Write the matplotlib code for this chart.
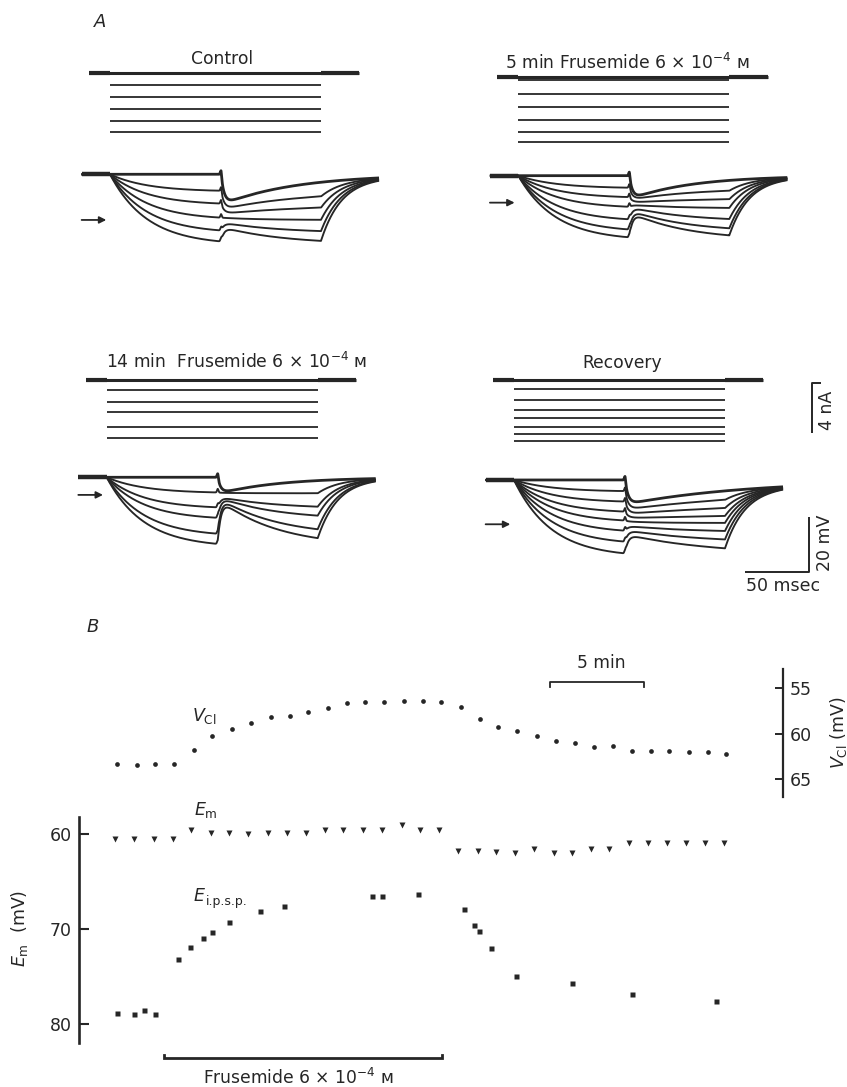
import numpy as np
import matplotlib
matplotlib.use('Agg')
import matplotlib.pyplot as plt

plt.rcParams['font.family'] = ['DejaVu Sans']
plt.rcParams['mathtext.fontset'] = 'dejavusans'

W, H = 847, 1087
INK = '#262626'

# ------------------------------------------------------------------ data: panel A
panel_titles = ['Control',
                '5 min Frusemide 6 \u00d7 10$^{-4}$ \u1d0d',
                '14 min  Frusemide 6 \u00d7 10$^{-4}$ \u1d0d',
                'Recovery']
# injected current steps (nA, hyperpolarizing)
control_currents = [1.0, 1.95, 2.95, 3.9, 4.85]
fr5_currents = [0.27, 1.4, 2.44, 3.52, 4.52, 5.28]
fr14_currents = [0.81, 1.76, 2.6, 3.8, 4.7]
recovery_currents = [0.73, 1.63, 2.44, 3.11, 3.8, 4.39, 4.93]
# steady hyperpolarization before the i.p.s.p. (mV below rest)
control_levels = [0, 6.3, 11.2, 16.6, 21.5, 25.7]
fr5_levels = [0, 4.6, 8.2, 11.9, 16.7, 20.6, 23.6]
fr14_levels = [0, 5.8, 11.5, 15.5, 21.6, 25.5]
recovery_levels = [0, 4.25, 8.25, 12.1, 15.5, 19.4, 23.6, 28.1]
# level reached at the i.p.s.p. peak (mV below rest)
control_peaks = [9.3, 12.0, 14.3, 16.6, 19.0, 21.2]
fr5_peaks = [7.0, 8.2, 9.8, 11.3, 13.0, 14.8, 16.1]
fr14_peaks = [4.9, 5.9, 8.3, 9.3, 10.8, 12.0]
recovery_peaks = [7.9, 10.2, 12.2, 14.1, 15.8, 17.8, 19.8, 21.8]
# i.p.s.p. reversal level (arrow), mV below rest
reversal_levels = [16.6, 9.8, 6.4, 16.1]
# i.p.s.p. decay time constants (ms)
ipsp_decay = [60, 50, 50, 100]

currents = [control_currents, fr5_currents, fr14_currents, recovery_currents]
levels = [control_levels, fr5_levels, fr14_levels, recovery_levels]
peaks = [control_peaks, fr5_peaks, fr14_peaks, recovery_peaks]

T_START, T_IPSP, T_OFF, T_END = -23.0, 90.0, 171.0, 218.0
I_START, I_END = -17.0, 202.0
TAU_ON, TAU_OFF, TAU_RISE = 30.0, 15.0, 2.5
ARTIFACT = 1.3

# ------------------------------------------------------------------ data: panel B (time in min)
vcl_t = [0.09, 1.18, 2.14, 3.15, 4.19, 5.18, 6.21, 7.23, 8.28, 9.29, 10.28, 11.32,
         12.33, 13.32, 14.30, 15.36, 16.38, 17.36, 18.40, 19.41, 20.39, 21.40, 22.43,
         23.47, 24.47, 25.48, 26.47, 27.50, 28.50, 29.48, 30.55, 31.53, 32.50]
vcl_mv = [63.3, 63.4, 63.3, 63.3, 61.8, 60.2, 59.5, 58.8, 58.2, 58.0, 57.6, 57.2,
          56.6, 56.5, 56.5, 56.4, 56.4, 56.5, 57.1, 58.4, 59.2, 59.65, 60.2,
          60.8, 61.0, 61.4, 61.3, 61.85, 61.9, 61.85, 62.0, 62.0, 62.2]
em_t = [0.0, 1.01, 2.07, 3.07, 4.04, 5.09, 6.06, 7.07, 8.12, 9.13, 10.14, 11.17,
        12.13, 13.18, 14.19, 15.25, 16.22, 17.25, 18.24, 19.29, 20.25, 21.28, 22.29,
        23.34, 24.31, 25.32, 26.28, 27.34, 28.35, 29.36, 30.37, 31.38, 32.39]
em_mv = [60.5, 60.5, 60.5, 60.5, 59.5, 59.9, 59.9, 60.0, 59.9, 59.9, 59.9, 59.5,
         59.5, 59.5, 59.5, 59.0, 59.5, 59.5, 61.8, 61.8, 61.9, 62.0, 61.5,
         62.0, 62.0, 61.5, 61.5, 60.9, 60.95, 60.95, 60.9, 60.95, 60.95]
eipsp_t = [0.09, 1.01, 1.54, 2.11, 3.35, 3.99, 4.68, 5.14, 6.06, 7.71, 8.97,
           13.67, 14.20, 16.12, 18.55, 19.10, 19.35, 20.00, 21.31, 24.31, 27.50, 31.97]
eipsp_mv = [78.8, 78.9, 78.5, 78.95, 73.1, 71.85, 70.9, 70.3, 69.2, 68.1, 67.5,
            66.5, 66.5, 66.3, 67.9, 69.5, 70.2, 72.0, 74.9, 75.7, 76.85, 77.6]
frusemide_period = [2.61, 17.38]
time_bar = [23.14, 28.14]
em_ticks = [60, 70, 80]
vcl_ticks = [55, 60, 65]

# ------------------------------------------------------------------ layout helpers
fig = plt.figure(figsize=(W / 100, H / 100), dpi=100)


def px_axes(x0, y0, x1, y1):
    ax = fig.add_axes([x0 / W, 1 - y1 / H, (x1 - x0) / W, (y1 - y0) / H])
    ax.patch.set_alpha(0)
    return ax


def ftext(x, y, s, **kw):
    return fig.text(x / W, 1 - y / H, s, **kw)


# ------------------------------------------------------------------ panel A
PX_MS, PX_MV, PX_NA = 1.234, 2.75, 12.3
panel_xon = [110.0, 518.3, 106.7, 514.0]
panel_vbase = [174.3, 175.7, 477.3, 480.0]
panel_izero = [72.7, 76.7, 380.0, 380.0]
title_pos = [(221.7, 58.5), (627.5, 62.5), (236.7, 362.0), (621.7, 363.3)]

t = np.linspace(T_START, T_END, 2000)


def vtrace(level, peak, top_amp, tau_d):
    s = np.where(t < 0, 0.0, -level * (1 - np.exp(-np.clip(t, 0, None) / TAU_ON)))
    s_off = -level * (1 - np.exp(-T_OFF / TAU_ON))
    s = np.where(t >= T_OFF, s_off * np.exp(-(t - T_OFF) / TAU_OFF), s)
    u = np.clip(t - T_IPSP, 0, None)
    g = np.exp(-u / tau_d) - np.exp(-u / TAU_RISE)
    g = g / g.max()
    amp = peak - level
    amp_t = np.where(t >= T_OFF,
                     top_amp + (amp - top_amp) * np.exp(-(t - T_OFF) / TAU_OFF), amp)
    blip = ARTIFACT * np.exp(-((t - T_IPSP) / 0.8) ** 2)
    return s - amp_t * g + blip


for k in range(4):
    xon, vb, iz = panel_xon[k], panel_vbase[k], panel_izero[k]
    t0, t1 = -30.0, 260.0
    v0, v1 = -40.0, 6.0
    axv = px_axes(xon + t0 * PX_MS, vb - v1 * PX_MV, xon + t1 * PX_MS, vb - v0 * PX_MV)
    axv.set_xlim(t0, t1)
    axv.set_ylim(v0, v1)
    axv.axis('off')
    i0, i1 = -7.0, 1.0
    axi = px_axes(xon + t0 * PX_MS, iz - i1 * PX_NA, xon + t1 * PX_MS, iz - i0 * PX_NA)
    axi.set_xlim(t0, t1)
    axi.set_ylim(i0, i1)
    axi.axis('off')

    # current traces
    axi.plot([I_START, I_END], [0, 0], color=INK, lw=2.2, solid_capstyle='butt')
    axi.plot([I_START, 0], [0, 0], color=INK, lw=3.0, solid_capstyle='butt')
    axi.plot([T_OFF, I_END], [0, 0], color=INK, lw=3.0, solid_capstyle='butt')
    for c in currents[k]:
        axi.plot([0, T_OFF], [-c, -c], color=INK, lw=1.3, solid_capstyle='butt')

    # voltage traces
    lv, pk = levels[k], peaks[k]
    top_amp = pk[0] - lv[0]
    for j, (L, P) in enumerate(zip(lv, pk)):
        axv.plot(t, vtrace(L, P, top_amp, ipsp_decay[k]), color=INK,
                 lw=2.0 if j == 0 else 1.35, solid_capstyle='butt')
    axv.plot([T_START, 0], [0, 0], color=INK, lw=3.2, solid_capstyle='butt')
    rev = reversal_levels[k]
    axv.annotate('', xy=(-3, -rev), xytext=(-23, -rev),
                 arrowprops=dict(arrowstyle='-|>', color=INK, lw=1.3,
                                 mutation_scale=10, shrinkA=0, shrinkB=0))

    tx, ty = title_pos[k]
    ftext(tx, ty, panel_titles[k], ha='center', va='center', fontsize=12.3, color=INK)

    if k == 3:
        # scale bars
        axv.plot([187.3, 239.4, 239.4], [-33.3, -33.3, -13.3], color=INK, lw=1.4,
                 clip_on=False, solid_capstyle='butt')
        axi.plot([248.5, 241.2, 241.2], [-0.27, -0.27, -4.28], color=INK, lw=1.4,
                 clip_on=False, solid_capstyle='butt')

ftext(783, 586, '50 msec', ha='center', va='center', fontsize=12.5, color=INK)
ftext(825, 543, '20 mV', ha='center', va='center', fontsize=12.5, color=INK, rotation=90)
ftext(827, 410, '4 nA', ha='center', va='center', fontsize=12.5, color=INK, rotation=90)
ftext(100, 22, 'A', ha='center', va='center', fontsize=13, style='italic', color=INK)
ftext(93, 627, 'B', ha='center', va='center', fontsize=13, style='italic', color=INK)

# ------------------------------------------------------------------ panel B
X0_PX, PX_MIN = 115.0, 18.8
LEFT_SPINE, RIGHT_SPINE = 79.0, 782.7


def tmin(px):
    return (px - X0_PX) / PX_MIN


# left axis (E_m, E_ipsp)
EM_Y60, EM_PX = 834.3, 9.5
axl = px_axes(LEFT_SPINE, 810, 800, 1087)
axl.set_xlim(tmin(LEFT_SPINE), tmin(800))
axl.set_ylim(80 + (1087 - (EM_Y60 + 20 * EM_PX)) / EM_PX, 60 - (EM_Y60 - 810) / EM_PX)
for s in ['top', 'right', 'bottom']:
    axl.spines[s].set_visible(False)
axl.spines['left'].set_bounds(60 - (EM_Y60 - 816.7) / EM_PX, 60 + (1042.7 - EM_Y60) / EM_PX)
axl.spines['left'].set_linewidth(1.9)
axl.spines['left'].set_color(INK)
axl.set_xticks([])
axl.set_yticks(em_ticks)
axl.tick_params(axis='y', direction='in', length=7.5, width=1.5, pad=5,
                labelsize=12.5, colors=INK)
axl.plot(em_t, em_mv, linestyle='none', marker='v', ms=3.8, color=INK, mec='none')
axl.plot(eipsp_t, eipsp_mv, linestyle='none', marker='s', ms=3.6, color=INK, mec='none')

yb = 60 + (1058.3 - EM_Y60) / EM_PX
ye = 60 + (1054.5 - EM_Y60) / EM_PX
axl.plot([frusemide_period[0], frusemide_period[0], frusemide_period[1], frusemide_period[1]],
         [ye, yb, yb, ye], color=INK, lw=2.0, clip_on=False, solid_joinstyle='miter')
ftext(298, 1078, 'Frusemide 6 \u00d7 10$^{-4}$ \u1d0d', ha='center', va='center',
      fontsize=12.3, color=INK)

# right axis (V_Cl)
VC_Y55, VC_PX = 688.3, 9.1
axr = px_axes(LEFT_SPINE, 650, RIGHT_SPINE, 810)
axr.set_xlim(tmin(LEFT_SPINE), tmin(RIGHT_SPINE))
axr.set_ylim(65 + (810 - (VC_Y55 + 10 * VC_PX)) / VC_PX, 55 - (VC_Y55 - 650) / VC_PX)
for s in ['top', 'left', 'bottom']:
    axr.spines[s].set_visible(False)
axr.spines['right'].set_bounds(55 - (VC_Y55 - 669.3) / VC_PX, 55 + (796.7 - VC_Y55) / VC_PX)
axr.spines['right'].set_linewidth(1.6)
axr.spines['right'].set_color(INK)
axr.set_xticks([])
axr.yaxis.tick_right()
axr.set_yticks(vcl_ticks)
axr.tick_params(axis='y', direction='in', length=6, width=1.4, pad=5,
                labelsize=12.5, colors=INK)
axr.plot(vcl_t, vcl_mv, linestyle='none', marker='o', ms=3.4, color=INK, mec='none')

yb5 = 55 - (VC_Y55 - 681.7) / VC_PX
ye5 = 55 - (VC_Y55 - 686.7) / VC_PX
axr.plot([time_bar[0], time_bar[0], time_bar[1], time_bar[1]], [ye5, yb5, yb5, ye5],
         color=INK, lw=1.3, clip_on=False)
ftext(601.7, 663.5, '5 min', ha='center', va='center', fontsize=12.3, color=INK)

# axis labels and series labels
ftext(20, 928, '$E_{\\rm m}$  (mV)', ha='center', va='center', rotation=90,
      fontsize=12.5, color=INK)
ftext(838, 733, '$V_{\\rm Cl}$ (mV)', ha='center', va='center', rotation=90,
      fontsize=12.5, color=INK)
ftext(192, 716, '$V_{\\rm Cl}$', ha='left', va='center', fontsize=12.5, color=INK)
ftext(194, 810, '$E_{\\rm m}$', ha='left', va='center', fontsize=12.5, color=INK)
ftext(194, 896, 'E', ha='left', va='center', fontsize=12.5, style='italic', color=INK)
ftext(206, 902, 'i.p.s.p.', ha='left', va='center', fontsize=9, color=INK)

fig.savefig('out.png', dpi=100, facecolor='white')
